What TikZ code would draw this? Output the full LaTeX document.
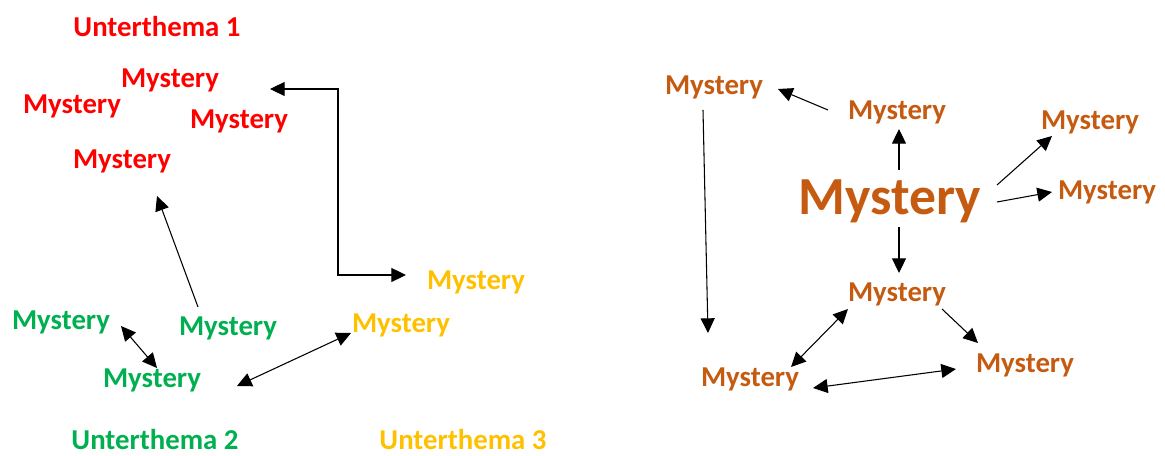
\documentclass[tikz,border=0pt]{standalone}
\usepackage{fontspec}
\setmainfont{Carlito}
\usepackage{xcolor}
\usepackage{tikz}
\usetikzlibrary{arrows.meta}
\definecolor{topicred}{HTML}{FF0000}
\definecolor{topicgreen}{HTML}{00B050}
\definecolor{topicgold}{HTML}{FFC000}
\definecolor{mainorange}{HTML}{C55A11}
\tikzset{
    word/.style={
        inner sep=0pt,
        font=\fontsize{21.6}{26}\selectfont\bfseries
    },
    bigword/.style={
        word,
        text=mainorange
    },
    hugeword/.style={
        inner sep=0pt,
        font=\fontsize{40.2}{46}\selectfont\bfseries,
        text=mainorange
    },
    oneway/.style={
        -{Triangle[length=11pt,width=10.5pt]},
        line width=0.8pt,
        draw=black
    },
    twoway/.style={
        {Triangle[length=11pt,width=10.5pt]}-{Triangle[length=11pt,width=10.5pt]},
        line width=0.8pt,
        draw=black
    }
}
\begin{document}
\begin{tikzpicture}[x=0.75pt, y=-0.75pt]
    \useasboundingbox (0,0) rectangle (1165,456);

    % Unterthema 1
    \node[word, text=topicred] (r0) at (157,27) {Unterthema 1};
    \node[word, text=topicred] (r1) at (170,80) {Mystery};
    \node[word, text=topicred] (r2) at (72,106) {Mystery};
    \node[word, text=topicred] (r3) at (239,121) {Mystery};
    \node[word, text=topicred] (r4) at (122,161) {Mystery};

    % Unterthema 2
    \node[word, text=topicgreen] (g1) at (61,322) {Mystery};
    \node[word, text=topicgreen] (g2) at (228,328) {Mystery};
    \node[word, text=topicgreen] (g3) at (152,380) {Mystery};
    \node[word, text=topicgreen] (g0) at (155,440) {Unterthema 2};

    % Unterthema 3
    \node[word, text=topicgold] (y1) at (476,282) {Mystery};
    \node[word, text=topicgold] (y2) at (401,325) {Mystery};
    \node[word, text=topicgold] (y0) at (463,440) {Unterthema 3};

    \draw[oneway] ([shift={(-30,-21)}]g2.center) -- ([shift={(35,35)}]r4.center);
    \draw[twoway] ([shift={(100,9)}]r1.center) -- ++(68,0) |- ([shift={(-70,-7)}]y1.center);
    \draw[twoway] ([shift={(60,4)}]g1.center) -- ([shift={(5,-12)}]g3.center);
    \draw[twoway] ([shift={(85,6)}]g3.center) -- ([shift={(-50,8)}]y2.center);

    % rechte Seite
    \node[hugeword] (oc) at (890,201) {Mystery};
    \node[bigword] (o1) at (714,87) {Mystery};
    \node[bigword] (o2) at (897,112) {Mystery};
    \node[bigword] (o3) at (1090,122) {Mystery};
    \node[bigword] (o4) at (1107,192) {Mystery};
    \node[bigword] (o5) at (897,294) {Mystery};
    \node[bigword] (o6) at (750,379) {Mystery};
    \node[bigword] (o7) at (1025,365) {Mystery};

    \draw[oneway] ([shift={(-69,-2)}]o2.center) -- ([shift={(64,2)}]o1.center);
    \draw[oneway] ([shift={(9,-31)}]oc.center) -- ([shift={(2,17)}]o2.center);
    \draw[oneway] ([shift={(107,-16)}]oc.center) -- ([shift={(-38,14)}]o3.center);
    \draw[oneway] ([shift={(107,1)}]oc.center) -- ([shift={(-55,0)}]o4.center);
    \draw[oneway] ([shift={(9,26)}]oc.center) -- ([shift={(2,-21)}]o5.center);
    \draw[oneway] ([shift={(-11,23)}]o1.center) -- ([shift={(-42,-46)}]o6.center);
    \draw[twoway] ([shift={(41,-12)}]o6.center) -- ([shift={(-49,15)}]o5.center);
    \draw[oneway] ([shift={(45,15)}]o5.center) -- ([shift={(-47,-22)}]o7.center);
    \draw[twoway] ([shift={(63,9)}]o6.center) -- ([shift={(-69,4)}]o7.center);
\end{tikzpicture}
\end{document}
